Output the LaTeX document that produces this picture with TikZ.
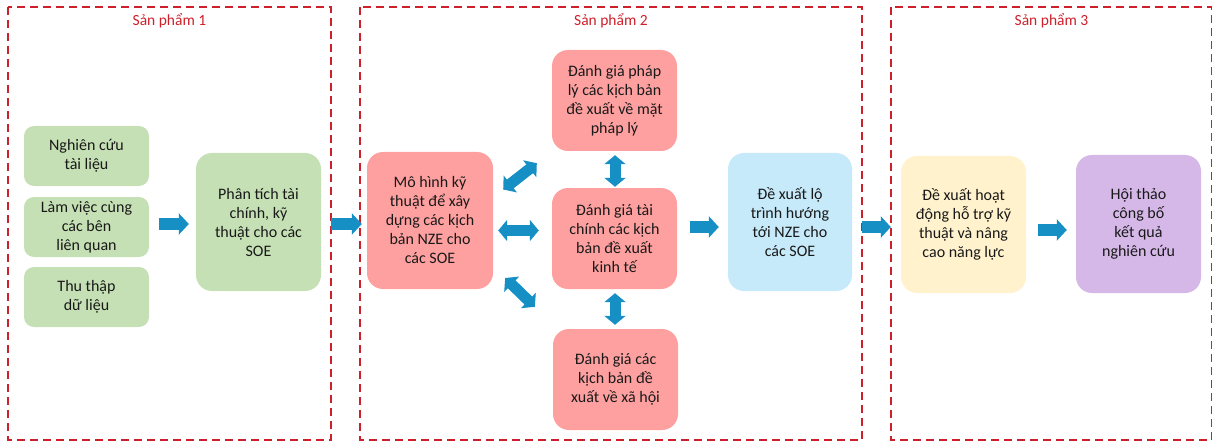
\documentclass[tikz,border=0pt]{standalone}
\usepackage{fontspec}
\setmainfont{Carlito}
\usetikzlibrary{arrows.meta,calc}
\definecolor{cgreen}{RGB}{197,224,180}
\definecolor{cpink}{RGB}{255,160,160}
\definecolor{cblue}{RGB}{199,234,250}
\definecolor{cyellow}{RGB}{255,242,204}
\definecolor{cpurple}{RGB}{213,184,232}
\definecolor{carrow}{RGB}{22,143,196}
\definecolor{cred}{RGB}{206,32,42}
\definecolor{ctext}{RGB}{25,25,25}
\tikzset{
  box/.style={rounded corners=16pt, align=center, inner sep=0pt,
    font=\fontsize{16}{19}\selectfont, text=ctext,
    minimum width=125pt, minimum height=137pt},
  smallbox/.style={box, rounded corners=10pt, minimum height=60pt},
  midbox/.style={box, minimum height=101pt},
  frame/.style={draw=cred, line width=1.8pt, dash pattern=on 8pt off 5pt},
  ftitle/.style={text=cred, font=\fontsize{15.5}{17}\selectfont},
  barrow/.style={draw=carrow, line width=12pt,
    -{Triangle[length=10pt,width=21pt]}},
  dbarrow/.style={draw=carrow, line width=11pt,
    {Triangle[length=9pt,width=21pt]}-{Triangle[length=9pt,width=21pt]}}
}
\begin{document}
\begin{tikzpicture}[x=1pt,y=-1pt]
\useasboundingbox (0,0) rectangle (1213,441);
% frames
\draw[frame] (8,7) rectangle (331,440);
\draw[frame] (360,7) rectangle (862,440);
\draw[frame] (891,7) rectangle (1211.5,440);
\node[ftitle] (t1) at (169.5,21) {Sản phẩm 1};
\node[ftitle] (t2) at (611,21) {Sản phẩm 2};
\node[ftitle] (t3) at (1051.5,21) {Sản phẩm 3};
% product 1
\node[smallbox, fill=cgreen] (n1) at (86.5,156) {Nghiên cứu\\tài liệu};
\node[smallbox, fill=cgreen] (n2) at (86.5,227) {Làm việc cùng\\các bên\\liên quan};
\node[smallbox, fill=cgreen] (n3) at (86.5,297) {Thu thập\\dữ liệu};
\node[box, fill=cgreen, minimum height=138pt] (pt) at (258.5,222) {Phân tích tài\\chính, kỹ\\thuật cho các\\SOE};
% product 2
\node[box, fill=cpink, minimum width=126pt] (mh) at (430,220.5) {Mô hình kỹ\\thuật để xây\\dựng các kịch\\bản NZE cho\\các SOE};
\node[midbox, fill=cpink] (pl) at (614.5,100.5) {Đánh giá pháp\\lý các kịch bản\\đề xuất về mặt\\pháp lý};
\node[midbox, fill=cpink] (tc) at (614.5,238.5) {Đánh giá tài\\chính các kịch\\bản đề xuất\\kinh tế};
\node[midbox, fill=cpink] (xh) at (615.5,379.5) {Đánh giá các\\kịch bản đề\\xuất về xã hội};
\node[box, fill=cblue, minimum width=124pt, minimum height=138pt] (lt) at (790,222) {Đề xuất lộ\\trình hướng\\tới NZE cho\\các SOE};
% product 3
\node[box, fill=cyellow] (hd) at (963.5,224.5) {Đề xuất hoạt\\động hỗ trợ kỹ\\thuật và nâng\\cao năng lực};
\node[box, fill=cpurple, minimum height=138pt] (ht) at (1138.5,224) {Hội thảo\\công bố\\kết quả\\nghiên cứu};
% single arrows
\draw[barrow] ($(pt.west)+(-37,2)$) -- ($(pt.west)+(-7,2)$);
\draw[barrow] ($(mh.west)+(-36,3.5)$) -- ($(mh.west)+(-5,3.5)$);
\draw[barrow] ($(lt.west)+(-38,5)$) -- ($(lt.west)+(-9,5)$);
\draw[barrow] ($(hd.west)+(-39,2.5)$) -- ($(hd.west)+(-10,2.5)$);
\draw[barrow] ($(ht.west)+(-38,6)$) -- ($(ht.west)+(-9,6)$);
% double arrows
\draw[dbarrow] ($(pl.south)+(0.5,4)$) -- ($(tc.north)+(0.5,-1)$);
\draw[dbarrow] ($(tc.south)+(0.5,4)$) -- ($(xh.north)+(-0.5,-4)$);
\draw[dbarrow] ($(mh.east)+(5,10)$) -- ($(tc.west)+(-13,-8)$);
\draw[dbarrow] ($(mh.east)+(10,-31)$) -- ($(pl.south west)+(-15,12)$);
\draw[dbarrow] ($(mh.east)+(12,57.5)$) -- ($(xh.north west)+(-18,-22)$);
\end{tikzpicture}
\end{document}
